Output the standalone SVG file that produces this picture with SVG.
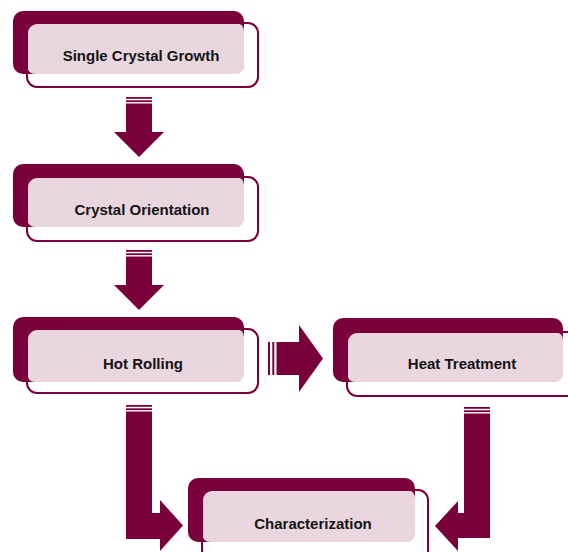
<svg xmlns="http://www.w3.org/2000/svg" width="568" height="552" viewBox="0 0 568 552">
  <style>
    .dark { fill: #7A003C; }
    .light { fill: #E9D6DF; }
    .outline { fill: none; stroke: #7A003C; stroke-width: 2; }
    .arrow { fill: #7A003C; }
    .label { font-family: "Liberation Sans", Arial, sans-serif; font-weight: bold; font-size: 15px; fill: #141414; text-anchor: middle; }
  </style>
  <rect width="568" height="552" fill="#FFFFFF"/>

  <g id="connectors">
    <!-- arrow 1 -->
    <rect class="arrow" x="126" y="97" width="26" height="1.8"/>
    <rect class="arrow" x="126" y="100.3" width="26" height="1.8"/>
    <rect class="arrow" x="126" y="103.5" width="26" height="29"/>
    <polygon class="arrow" points="114,132 164,132 139,157"/>
    <!-- arrow 2 -->
    <rect class="arrow" x="126" y="250" width="26" height="1.8"/>
    <rect class="arrow" x="126" y="253.3" width="26" height="1.8"/>
    <rect class="arrow" x="126" y="256.5" width="26" height="29"/>
    <polygon class="arrow" points="114,285 164,285 139,310"/>
    <!-- right arrow -->
    <rect class="arrow" x="268" y="342" width="2" height="33"/>
    <rect class="arrow" x="272.3" y="342" width="2" height="33"/>
    <rect class="arrow" x="276.5" y="342" width="23" height="33"/>
    <polygon class="arrow" points="299,325 299,392 323,358.5"/>
    <!-- left L arrow -->
    <rect class="arrow" x="126" y="405" width="26" height="1.8"/>
    <rect class="arrow" x="126" y="408.3" width="26" height="1.8"/>
    <path class="arrow" d="M126,411.5 L152,411.5 L152,513 L160,513 L160,500 L183,525.5 L160,551 L160,539 L126,539 Z"/>
    <!-- right L arrow -->
    <rect class="arrow" x="464" y="407" width="26" height="1.8"/>
    <rect class="arrow" x="464" y="410.3" width="26" height="1.8"/>
    <path class="arrow" d="M464,413.5 L490,413.5 L490,538 L458,538 L458,551 L435,526 L458,501 L458,513 L464,513 Z"/>
  </g>

  <g id="node-single-crystal-growth">
    <rect class="dark" x="13" y="11" width="231" height="63" rx="10"/>
    <rect class="light" x="27" y="23" width="217" height="51" rx="8"/>
    <rect class="outline" x="27" y="23" width="231" height="64" rx="10"/>
    <text class="label" x="141" y="61">Single Crystal Growth</text>
  </g>

  <g id="node-crystal-orientation">
    <rect class="dark" x="13" y="164" width="231" height="63" rx="10"/>
    <rect class="light" x="27" y="177" width="217" height="50" rx="8"/>
    <rect class="outline" x="27" y="177" width="231" height="64" rx="10"/>
    <text class="label" x="142" y="215">Crystal Orientation</text>
  </g>

  <g id="node-hot-rolling">
    <rect class="dark" x="13" y="317" width="231" height="65" rx="10"/>
    <rect class="light" x="27" y="329" width="217" height="53" rx="8"/>
    <rect class="outline" x="27" y="329" width="231" height="64" rx="10"/>
    <text class="label" x="143" y="369">Hot Rolling</text>
  </g>

  <g id="node-heat-treatment">
    <rect class="dark" x="333" y="318" width="230" height="64" rx="10"/>
    <rect class="light" x="347" y="332" width="216" height="50" rx="8"/>
    <rect class="outline" x="347" y="332" width="232" height="64" rx="10"/>
    <text class="label" x="462" y="369">Heat Treatment</text>
  </g>

  <g id="node-characterization">
    <rect class="dark" x="188" y="478" width="227" height="64" rx="10"/>
    <rect class="light" x="202" y="490" width="213" height="52" rx="8"/>
    <rect class="outline" x="202" y="490" width="226" height="70" rx="10"/>
    <text class="label" x="313" y="529">Characterization</text>
  </g>
</svg>
